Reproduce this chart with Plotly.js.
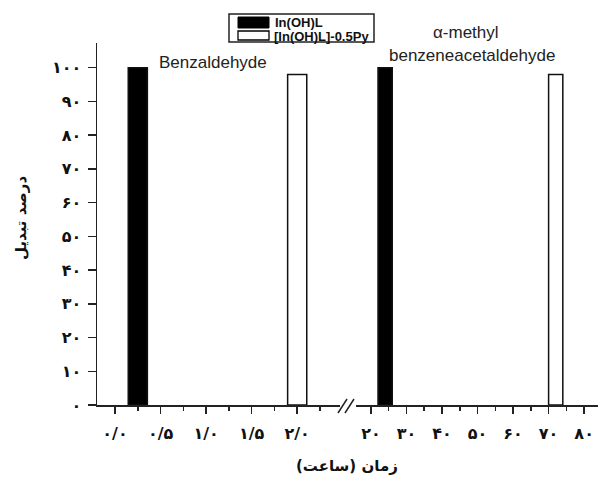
<!DOCTYPE html>
<html>
<head>
<meta charset="utf-8">
<script src="https://cdn.plot.ly/plotly-3.0.1.min.js"></script>
<style>html,body{margin:0;padding:0;background:#fff;}#chart{width:602px;height:484px;}</style>
</head>
<body>
<div id="chart"></div>
<script>
// ---- data ----
const seriesNames = ['In(OH)L', '[In(OH)L]-0.5Py'];
const benzTime = [0.25, 2.0];      // hours, Benzaldehyde
const benzConv = [100, 98];        // % conversion
const mbaTime = [24, 72];          // hours, alpha-methyl benzeneacetaldehyde
const mbaConv = [100, 98];
const xLeftTickVals = [0, 0.5, 1.0, 1.5, 2.0];
const xLeftTickText = ['۰/۰', '۰/۵', '۱/۰', '۱/۵', '۲/۰'];
const xRightTickVals = [20, 30, 40, 50, 60, 70, 80];
const xRightTickText = ['۲۰', '۳۰', '۴۰', '۵۰', '۶۰', '۷۰', '۸۰'];
const yTickVals = [0, 10, 20, 30, 40, 50, 60, 70, 80, 90, 100];
const yTickText = ['۰', '۱۰', '۲۰', '۳۰', '۴۰', '۵۰', '۶۰', '۷۰', '۸۰', '۹۰', '۱۰۰'];

const fills = ['#000000', '#ffffff'];
const traces = [];
for (let i = 0; i < 2; i++) {
  traces.push({
    type: 'bar', x: [benzTime[i]], y: [benzConv[i]], name: seriesNames[i],
    xaxis: 'x', yaxis: 'y', width: 0.21, showlegend: false,
    marker: {color: fills[i], line: {color: '#111', width: 1.5}}
  });
  traces.push({
    type: 'bar', x: [mbaTime[i]], y: [mbaConv[i]], name: seriesNames[i],
    xaxis: 'x2', yaxis: 'y', width: 4.0, showlegend: false,
    marker: {color: fills[i], line: {color: '#111', width: 1.5}}
  });
}

const L = 97, T = 43, PW = 501, PH = 362;
const px = v => (v - L) / PW;
const py = v => (T + PH - v) / PH;

const axCommon = {
  showline: true, linecolor: '#222', linewidth: 1.5, ticks: 'outside', ticklen: 7,
  tickwidth: 1.5, tickcolor: '#222', showgrid: false, zeroline: false, tickmode: 'array',
  tickfont: {family: 'DejaVu Sans', size: 16, color: '#111', weight: 'bold'},
  ticklabelstandoff: 6, fixedrange: true
};

const layout = {
  width: 602, height: 484,
  margin: {l: L, r: 602 - L - PW, t: T, b: 484 - T - PH},
  paper_bgcolor: '#fff', plot_bgcolor: '#fff',
  showlegend: false, bargap: 0, barmode: 'overlay',
  xaxis: Object.assign({}, axCommon, {
    domain: [0, px(340)], range: [-0.198, 2.47], anchor: 'y',
    tickvals: xLeftTickVals, ticktext: xLeftTickText,
    minor: {ticks: 'outside', ticklen: 4, tickwidth: 1.5, tickcolor: '#222', tickmode: 'linear', tick0: 0, dtick: 0.25}
  }),
  xaxis2: Object.assign({}, axCommon, {
    domain: [px(356), 1], range: [15.8, 83.9], anchor: 'y',
    tickvals: xRightTickVals, ticktext: xRightTickText,
    minor: {ticks: 'outside', ticklen: 4, tickwidth: 1.5, tickcolor: '#222', tickmode: 'linear', tick0: 0, dtick: 5}
  }),
  yaxis: Object.assign({}, axCommon, {
    range: [0, 107.3], tickvals: yTickVals, ticktext: yTickText, ticklen: 8,
    ticklabelstandoff: 3, domain: [0, 1], anchor: 'x'
  }),
  shapes: [
    // axis break marks
    {type: 'line', xref: 'paper', yref: 'paper', x0: px(338), y0: py(413), x1: px(347), y1: py(399), line: {color: '#222', width: 1.5}},
    {type: 'line', xref: 'paper', yref: 'paper', x0: px(345), y0: py(413), x1: px(354), y1: py(399), line: {color: '#222', width: 1.5}},
    // custom legend
    {type: 'rect', xref: 'paper', yref: 'paper', x0: px(229), x1: px(374), y0: py(42), y1: py(14), line: {color: '#222', width: 1.5}, fillcolor: 'rgba(0,0,0,0)'},
    {type: 'rect', xref: 'paper', yref: 'paper', x0: px(238), x1: px(269), y0: py(28), y1: py(17), line: {color: '#000', width: 1}, fillcolor: '#000'},
    {type: 'rect', xref: 'paper', yref: 'paper', x0: px(238), x1: px(269), y0: py(40), y1: py(31), line: {color: '#000', width: 1.3}, fillcolor: '#fff'}
  ],
  annotations: [
    {xref: 'paper', yref: 'paper', x: px(273), y: py(22.5), xanchor: 'left', yanchor: 'middle', showarrow: false,
      text: seriesNames[0], font: {family: 'Liberation Sans, Arial', size: 13, color: '#111', weight: 'bold'}},
    {xref: 'paper', yref: 'paper', x: px(272), y: py(36), xanchor: 'left', yanchor: 'middle', showarrow: false,
      text: seriesNames[1], font: {family: 'Liberation Sans, Arial', size: 13, color: '#111', weight: 'bold'}},
    {xref: 'paper', yref: 'paper', x: px(212.5), y: py(63), xanchor: 'center', yanchor: 'middle', showarrow: false,
      text: 'Benzaldehyde', font: {family: 'Liberation Sans, Arial', size: 17, color: '#222'}},
    {xref: 'paper', yref: 'paper', x: px(466), y: py(33), xanchor: 'center', yanchor: 'middle', showarrow: false,
      text: 'α-methyl', font: {family: 'Liberation Sans, Arial', size: 17, color: '#222'}},
    {xref: 'paper', yref: 'paper', x: px(472), y: py(55), xanchor: 'center', yanchor: 'middle', showarrow: false,
      text: 'benzeneacetaldehyde', font: {family: 'Liberation Sans, Arial', size: 17, color: '#222'}},
    {xref: 'paper', yref: 'paper', x: px(347), y: py(466), xanchor: 'center', yanchor: 'middle', showarrow: false,
      text: 'زمان (ساعت)', font: {family: 'DejaVu Sans', size: 15, color: '#111', weight: 'bold'}},
    {xref: 'paper', yref: 'paper', x: px(21), y: py(218), xanchor: 'center', yanchor: 'middle', showarrow: false, textangle: -90,
      text: 'درصد تبدیل', font: {family: 'DejaVu Sans', size: 15, color: '#111', weight: 'bold'}}
  ]
};

Plotly.newPlot('chart', traces, layout, {staticPlot: true, displayModeBar: false});
</script>
</body>
</html>
